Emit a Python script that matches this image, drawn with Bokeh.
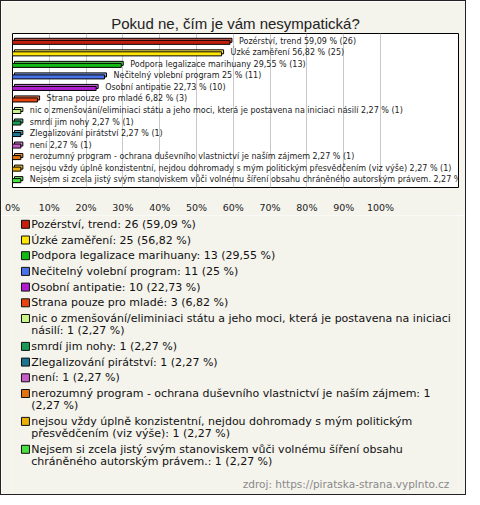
from bokeh.plotting import figure
from bokeh.layouts import column
from bokeh.models import Range1d, FixedTicker, ColumnDataSource
from bokeh.core.properties import value
from bokeh.embed import file_html
from bokeh.resources import INLINE

# ---------------- data ----------------
chart_title = "Pokud ne, čím je vám nesympatická?"
categories = [
    "Pozérství, trend",
    "Úzké zaměření",
    "Podpora legalizace marihuany",
    "Nečitelný volební program",
    "Osobní antipatie",
    "Strana pouze pro mladé",
    "nic o zmenšování/eliminiaci státu a jeho moci, která je postavena na iniciaci násilí",
    "smrdí jim nohy",
    "Zlegalizování pirátství",
    "není",
    "nerozumný program - ochrana duševního vlastnictví je naším zájmem",
    "nejsou vždy úplně konzistentní, nejdou dohromady s mým politickým přesvědčením (viz výše)",
    "Nejsem si zcela jistý svým stanoviskem vůči volnému šíření obsahu chráněného autorským právem.",
]
counts = [26, 25, 13, 11, 10, 3, 1, 1, 1, 1, 1, 1, 1]
percents = [59.09, 56.82, 29.55, 25, 22.73, 6.82, 2.27, 2.27, 2.27, 2.27, 2.27, 2.27, 2.27]
colors = ["#c41e0e", "#ffe600", "#12bb12", "#4a72e8", "#b01ed0", "#e84412",
          "#c8f58a", "#169a54", "#1c7490", "#c65cc6", "#e07212", "#e8b008", "#48e040"]
tick_values = [0, 10, 20, 30, 40, 50, 60, 70, 80, 90, 100]
tick_labels = ["0%", "10%", "20%", "30%", "40%", "50%", "60%", "70%", "80%", "90%", "100%"]
source_note = "zdroj: https://piratska-strana.vyplnto.cz"

# ---------------- styling ----------------
BG = "#f4f3ec"
FONT = "DejaVu Sans"
W = 464
FRAME_W = 446
FRAME_H = 154
X_MAX = 121.2
PAD = 0.68


def fmt_pct(v):
    s = f"{v:.2f}".rstrip("0").rstrip(".")
    return s.replace(".", ",")


def lighten(hexcol, f=0.3):
    r, g, b = int(hexcol[1:3], 16), int(hexcol[3:5], 16), int(hexcol[5:7], 16)
    r, g, b = [int(c + (255 - c) * f) for c in (r, g, b)]
    return f"#{r:02x}{g:02x}{b:02x}"


# approximate DejaVu Sans advance widths (em) for wrapping
_narrow = {"i": .278, "l": .278, "j": .278, "í": .278, " ": .318, ",": .318, ".": .318,
           ":": .337, "/": .337, "t": .392, "f": .352, "r": .411, "(": .39, ")": .39,
           "-": .361, "%": .95, "m": .974, "w": .818, "s": .521, "z": .525, "c": .55,
           "š": .521, "ž": .525, "č": .55, "ř": .411, "ť": .392}


def text_w(s, size):
    tot = 0.0
    for ch in s:
        if ch in _narrow:
            tot += _narrow[ch]
        elif ch.isdigit():
            tot += .636
        elif ch.isupper():
            tot += .70
        else:
            tot += .61
    return tot * size * 1.044


def wrap(s, maxw, size):
    words = s.split(" ")
    lines, cur = [], ""
    for w in words:
        cand = w if not cur else cur + " " + w
        if text_w(cand, size) <= maxw or not cur:
            cur = cand
        else:
            lines.append(cur)
            cur = w
    if cur:
        lines.append(cur)
    return lines


n = len(categories)
rows = list(range(n))
px_per_pct = FRAME_W / X_MAX
px_per_row = FRAME_H / (n - 1 + 2 * PAD)
dx = 2.0 / px_per_pct
dy = 2.0 / px_per_row

bar_labels = [f"{c} {fmt_pct(p)} % ({k})" for c, p, k in zip(categories, percents, counts)]

src = ColumnDataSource(dict(
    row=rows, pct=percents, color=colors, light=[lighten(c) for c in colors],
    label=bar_labels,
    f_top=[r - 0.09 for r in rows], f_bot=[r + 0.26 for r in rows],
    b_top=[r - 0.09 - dy for r in rows], b_bot=[r + 0.26 - dy for r in rows],
    b_left=[dx] * n, b_right=[p + dx for p in percents],
))

# ---------------- figure A: bars ----------------
pA = figure(frame_width=FRAME_W, frame_height=FRAME_H,
            x_range=Range1d(0, X_MAX), y_range=Range1d(n - 1 + PAD, -PAD),
            output_backend="svg", toolbar_location=None, y_axis_location=None,
            min_border_left=11, min_border_right=W - 11 - FRAME_W,
            min_border_top=32, min_border_bottom=24,
            background_fill_color="white", border_fill_color=BG,
            title=chart_title)
pA.title.align = "center"
pA.title.text_font = "Liberation Sans"
pA.title.text_font_style = "normal"
pA.title.text_font_size = "15px"
pA.title.text_color = "#222222"
pA.title.standoff = 4
pA.outline_line_color = "#000000"
pA.outline_line_width = 1

pA.quad(left="b_left", right="b_right", top="b_top", bottom="b_bot", source=src,
        fill_color="light", line_color="#000000", line_width=1)
pA.quad(left=0, right="pct", top="f_top", bottom="f_bot", source=src,
        fill_color="color", line_color="#000000", line_width=1)
pA.text(x="pct", y="row", text="label", source=src, x_offset=9,
        text_baseline="middle", text_align="left",
        text_font=value(FONT), text_font_size="8px", text_color="#222222")

pA.xaxis.ticker = FixedTicker(ticks=tick_values)
pA.xaxis.major_label_overrides = dict(zip(tick_values, tick_labels))
pA.xaxis.axis_line_color = None
pA.xaxis.major_tick_line_color = None
pA.xaxis.minor_tick_line_color = None
pA.xaxis.major_label_standoff = 8
pA.xaxis.major_label_text_font = FONT
pA.xaxis.major_label_text_font_size = "9.5px"
pA.xaxis.major_label_text_color = "#222222"
pA.xgrid.ticker = FixedTicker(ticks=tick_values)
pA.xgrid.grid_line_color = "#c8c8c8"
pA.ygrid.grid_line_color = None

# ---------------- figure B: legend ----------------
HB = 279
LEG_SIZE = 11
pB = figure(width=W, height=HB, x_range=Range1d(0, W), y_range=Range1d(HB, 0),
            output_backend="svg", toolbar_location=None,
            x_axis_location=None, y_axis_location=None,
            min_border=0, background_fill_color=BG, border_fill_color=BG)
pB.outline_line_color = None
pB.grid.grid_line_color = None

y0, gap, lh = 8.8, 15.7, 12.2
sq_x, sq_y, sq_c = [], [], []
tx, ty, tt = [], [], []
y = y0
for c, p, k, col in zip(categories, percents, counts, colors):
    lines = wrap(f"{c}: {k} ({fmt_pct(p)} %)", 440, LEG_SIZE)
    sq_x.append(13.5)
    sq_y.append(y)
    sq_c.append(col)
    for j, ln in enumerate(lines):
        tx.append(19.5)
        ty.append(y + j * lh)
        tt.append(ln)
    y += (len(lines) - 1) * lh + gap

pB.scatter(x=sq_x, y=sq_y, marker="square", size=8, fill_color=sq_c, line_color="#111111")
pB.text(x=tx, y=ty, text=tt, text_baseline="middle", text_align="left",
        text_font=value(FONT), text_font_size=f"{LEG_SIZE}px", text_color="#111111")
pB.text(x=[454.5], y=[268.7], text=[source_note], text_baseline="middle", text_align="right",
        text_font=value(FONT), text_font_size="10.5px", text_color="#8a8a8a")

layout = column(pA, pB, spacing=0, styles={"border": "1px solid #222222"})

open("out.html", "w").write(file_html(layout, INLINE))
